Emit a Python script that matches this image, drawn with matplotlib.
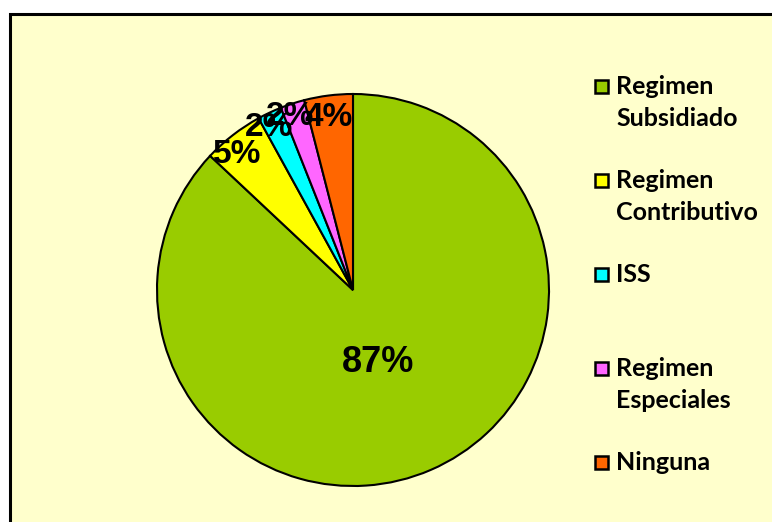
import matplotlib.pyplot as plt
from matplotlib.patches import Rectangle
import numpy as np

# data
labels = ['Regimen\nSubsidiado', 'Regimen\nContributivo', 'ISS', 'Regimen\nEspeciales', 'Ninguna']
values = [87, 5, 2, 2, 4]
colors = ['#99CC00', '#FFFF00', '#00FFFF', '#FF66FF', '#FF6600']

W, H = 772, 522
fig = plt.figure(figsize=(W / 100, H / 100), dpi=100, facecolor='white')

# chart area with black frame
fig.add_artist(Rectangle((10 / W, -0.05), 1.1, 1 - 13.5 / H + 0.05, transform=fig.transFigure,
                         facecolor='#FFFFCC', edgecolor='black', linewidth=2.2, zorder=-5))

# pie axes, center (353, 290) px, radius 196 px
cx, cy, r = 353, 290, 196
ax = fig.add_axes([(cx - r) / W, (H - cy - r) / H, 2 * r / W, 2 * r / H])
wedges, texts, autotexts = ax.pie(values, colors=colors, startangle=90, counterclock=False,
                                  autopct='%1.0f%%', pctdistance=0.90,
                                  wedgeprops=dict(edgecolor='black', linewidth=1.5),
                                  textprops=dict(fontfamily='Liberation Sans', fontweight='bold',
                                                 fontsize=24, color='black'))
ax.set_xlim(-1, 1)
ax.set_ylim(-1, 1)
ax.set_aspect('equal')
ax.axis('off')

# label placement like Excel (small labels pushed apart a bit)
lab_r = [0.39, 0.91, 0.935, 0.94, 0.89]
lab_nudge = [-4, 2.7, 2, 2, 0.7]
for w, t, lr, dn in zip(wedges, autotexts, lab_r, lab_nudge):
    a = np.deg2rad((w.theta1 + w.theta2) / 2 + dn)
    t.set_position((lr * np.cos(a), lr * np.sin(a)))
autotexts[0].set_fontsize(26)

# legend drawn by hand (Excel style: equal slots)
top0, step = 75, 94
for i, (lab, col) in enumerate(zip(labels, colors)):
    ytop = top0 + i * step
    fig.add_artist(Rectangle((595 / W, 1 - (ytop + 17.5) / H), 13 / W, 13 / H,
                             transform=fig.transFigure, facecolor=col,
                             edgecolor='black', linewidth=1.8))
    fig.text(616 / W, 1 - ytop / H, lab, ha='left', va='top', fontsize=18,
             fontfamily='Lato', fontweight='bold', linespacing=1.45)

fig.savefig('out.png', dpi=100)
